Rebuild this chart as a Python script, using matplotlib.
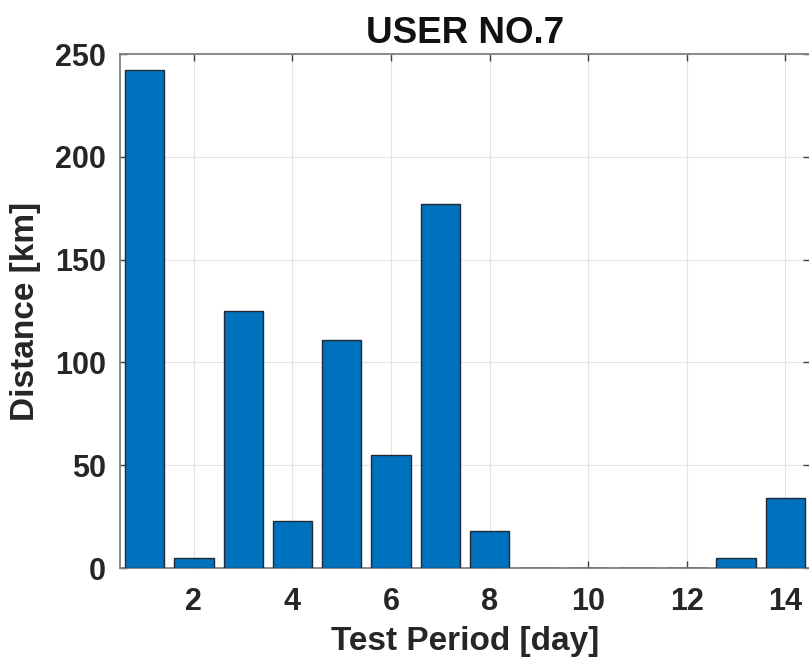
import matplotlib
matplotlib.use("Agg")
import matplotlib.pyplot as plt

plt.rcParams['font.family'] = ['Liberation Sans', 'DejaVu Sans']

days = list(range(1, 15))
distance_km = [242, 5, 125, 23, 111, 55, 177, 18, 0, 0, 0, 0, 5, 34]
x_ticks = [2, 4, 6, 8, 10, 12, 14]
y_ticks = [0, 50, 100, 150, 200, 250]

fig = plt.figure(figsize=(8.09, 6.68), dpi=100)
ax = fig.add_axes([120/809, 100/668, 690/809, 514/668])

ax.bar(days, distance_km, width=0.8, color='#0072BD', edgecolor='#1f2a36',
       linewidth=1.0, zorder=3)

ax.set_xlim(0.5, 14.5)
ax.set_ylim(0, 250)
ax.set_xticks(x_ticks)
ax.set_yticks(y_ticks)

ax.grid(True, color='#e3e3e3', linewidth=0.8, zorder=0)
ax.set_axisbelow(True)

for s in ax.spines.values():
    s.set_color('#808080')
    s.set_linewidth(1.3)

ax.tick_params(axis='both', direction='in', length=5, width=1, color='#404040',
               labelsize=22, labelcolor='#262626', top=True, right=True)
ax.tick_params(axis='x', pad=14)
ax.tick_params(axis='y', pad=10)
for lab in ax.get_xticklabels() + ax.get_yticklabels():
    lab.set_fontweight('bold')

ax.set_xlabel('Test Period [day]', fontsize=24, fontweight='bold', color='#262626', labelpad=6)
ax.set_ylabel('Distance [km]', fontsize=24, fontweight='bold', color='#262626', labelpad=10)
ax.set_title('USER NO.7', fontsize=26.5, fontweight='bold', color='#111111', pad=8)

fig.savefig('out.png', dpi=100)
